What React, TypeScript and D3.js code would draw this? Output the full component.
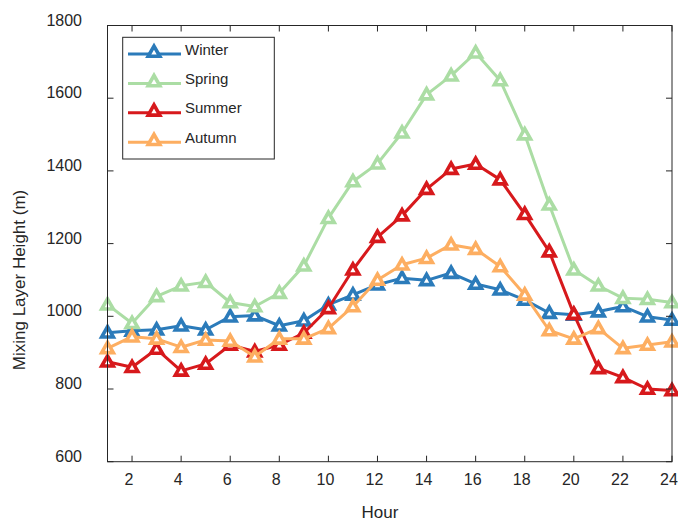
import React from 'react';
import * as d3 from 'd3';

// hourly mean mixing layer height per season (m)
const hours = d3.range(1, 25);
const winter = [955, 960, 963, 974, 963, 999, 1002, 974, 988, 1032, 1059, 1087, 1105, 1099, 1119, 1089, 1073, 1045, 1009, 1004, 1013, 1027, 999, 990];
const spring = [1032, 981, 1055, 1084, 1094, 1038, 1027, 1064, 1139, 1270, 1371, 1420, 1505, 1610, 1662, 1725, 1649, 1500, 1307, 1128, 1084, 1050, 1047, 1038];
const summer = [875, 860, 910, 850, 869, 921, 903, 921, 954, 1022, 1128, 1218, 1277, 1350, 1405, 1419, 1376, 1281, 1178, 1006, 857, 832, 800, 796];
const autumn = [912, 944, 938, 915, 935, 932, 889, 938, 938, 967, 1027, 1100, 1142, 1160, 1197, 1185, 1137, 1059, 961, 938, 967, 912, 921, 930];

const seasonNames = ['Winter', 'Spring', 'Summer', 'Autumn'];
const seasonValues = [winter, spring, summer, autumn];
const seasonColors = ['#2b7bba', '#abdda4', '#d7191c', '#fdae61'];

const xTicks = [2, 4, 6, 8, 10, 12, 14, 16, 18, 20, 22, 24];
const yTicks = [600, 800, 1000, 1200, 1400, 1600, 1800];

const W = 678;
const H = 522;
const left = 107.5, right = 672, top = 25.5, bottom = 461.7;
const ink = '#262626';
const font = '"Liberation Sans", Arial, Helvetica, sans-serif';

// open triangle marker, drawn around (0,0)
const tri = 'M0,-5.9L5.8,4.3L-5.8,4.3Z';

export default function App() {
  const x = d3.scaleLinear().domain([1, 24]).range([left, right]);
  const y = d3.scaleLinear().domain([600, 1800]).range([bottom, top]);

  const lineGen = d3.line<number>()
    .x((_, i) => x(hours[i]))
    .y(d => y(d));

  const tickLen = 6;

  return (
    <svg width={W} height={H} style={{ position: 'absolute', left: 0, top: 0, background: '#fff' }}
      fontFamily={font}>
      <rect x={0} y={0} width={W} height={H} fill="#fff" />

      {/* series: line then markers, later seasons on top */}
      {seasonValues.map((vals, s) => (
        <g key={seasonNames[s]}>
          <path d={lineGen(vals) || ''} fill="none" stroke={seasonColors[s]} strokeWidth={3}
            strokeLinejoin="round" />
          {vals.map((v, i) => (
            <path key={i} d={tri} transform={`translate(${x(hours[i])},${y(v)})`}
              fill="#fff" stroke={seasonColors[s]} strokeWidth={3.6} strokeLinejoin="miter" />
          ))}
        </g>
      ))}

      {/* axes box */}
      <rect x={left} y={top} width={right - left} height={bottom - top} fill="none" stroke={ink} strokeWidth={1} />

      {xTicks.map(t => (
        <g key={'x' + t}>
          <line x1={x(t)} x2={x(t)} y1={bottom} y2={bottom - tickLen} stroke={ink} />
          <line x1={x(t)} x2={x(t)} y1={top} y2={top + tickLen} stroke={ink} />
          <text x={x(t) - 3} y={479} textAnchor="middle" dominantBaseline="central"
            fontSize={16} fill={ink}>{t}</text>
        </g>
      ))}

      {yTicks.map(t => (
        <g key={'y' + t}>
          <line x1={left} x2={left + tickLen} y1={y(t)} y2={y(t)} stroke={ink} />
          <line x1={right} x2={right - tickLen} y1={y(t)} y2={y(t)} stroke={ink} />
          <text x={82} y={y(t) - 5.5} textAnchor="end" dominantBaseline="central"
            fontSize={16} fill={ink}>{t}</text>
        </g>
      ))}

      <text x={380} y={512} textAnchor="middle" dominantBaseline="central" fontSize={17} fill={ink}>Hour</text>
      <text transform="translate(19,280) rotate(-90)" textAnchor="middle" dominantBaseline="central"
        fontSize={17} fill={ink}>Mixing Layer Height (m)</text>

      {/* legend */}
      <rect x={122.7} y={37.3} width={151.6} height={121.7} fill="#fff" stroke={ink} strokeWidth={1} />
      {seasonNames.map((name, s) => {
        const ly = 54 + s * 29.4;
        return (
          <g key={'lg' + name}>
            <line x1={128} x2={181} y1={ly} y2={ly} stroke={seasonColors[s]} strokeWidth={3} />
            <path d={tri} transform={`translate(154,${ly - 2})`} fill="#fff"
              stroke={seasonColors[s]} strokeWidth={3.6} />
            <text x={185} y={ly - 5} dominantBaseline="central" fontSize={15} fill={ink}>{name}</text>
          </g>
        );
      })}
    </svg>
  );
}
